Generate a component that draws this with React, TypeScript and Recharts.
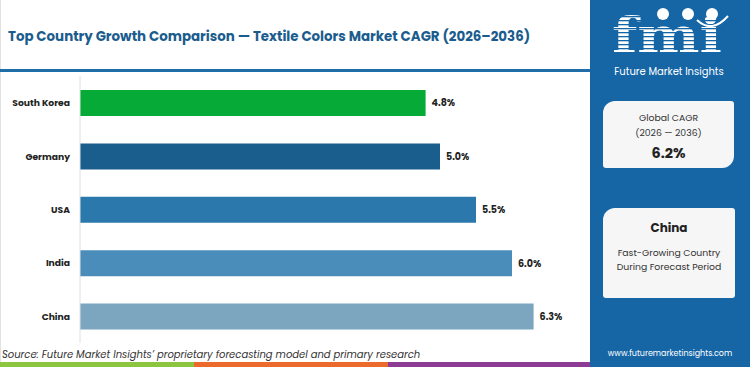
import { BarChart, Bar, XAxis, YAxis, LabelList, Cell } from 'recharts';

const countries = ['South Korea', 'Germany', 'USA', 'India', 'China'];
const cagrValues = [4.8, 5.0, 5.5, 6.0, 6.3];
const barColors = ['#06ab37', '#1a5e8e', '#2b78ad', '#4a8cba', '#7ca5c0'];
const bottomStripe = ['#8cc63f', '#ec6a2c', '#8d3b95'];

const data = countries.map((country, i) => ({ country, cagr: cagrValues[i] }));

const FONT = 'Poppins, "Open Sans", Roboto, sans-serif';

function CountryTick({ x, y, payload }: any) {
  return (
    <text x={x} y={y} dy={3.5} textAnchor="end" fill="#222" fontSize={9.2} fontWeight={700} fontFamily={FONT}>
      {payload.value}
    </text>
  );
}

function Logo() {
  const stripes = [];
  for (let y = 16; y < 54; y += 4) {
    stripes.push(<rect key={y} x={608} y={y} width={120} height={1.3} fill="#1666a6" />);
  }
  return (
    <svg width={160} height={100} viewBox="590 0 160 100" style={{ position: 'absolute', left: 590, top: 0 }}>
      <text x={612} y={53} fill="#fff" fontFamily='"DejaVu Serif", serif' fontWeight={700} fontSize={50} textLength={110} lengthAdjust="spacingAndGlyphs">
        fmi
      </text>
      {stripes}
      <circle cx={663} cy={14} r={6} fill="#fff" />
      <circle cx={688} cy={14} r={6} fill="#fff" />
      <circle cx={712} cy={14} r={6} fill="#fff" />
      <path d="M697 20 Q712 34 728 16" stroke="#fff" strokeWidth={2} fill="none" />
      <text x={669} y={75} fill="#fff" fontFamily={FONT} fontSize={10} textAnchor="middle">
        Future Market Insights
      </text>
    </svg>
  );
}

export default function App() {
  return (
    <div style={{ position: 'absolute', left: 0, top: 0, width: 750, height: 367, background: '#fff', overflow: 'hidden', fontFamily: FONT }}>
      <div style={{ position: 'absolute', left: 0, top: 0, width: 1, height: 367, background: '#e2e2e2' }} />
      <div style={{ position: 'absolute', left: 8, top: 27, fontSize: 13.4, fontWeight: 700, color: '#1b5c8e', whiteSpace: 'nowrap' }}>
        Top Country Growth Comparison — Textile Colors Market CAGR (2026–2036)
      </div>
      <div style={{ position: 'absolute', left: 0, top: 69, width: 590, height: 3, background: '#1f6ea8' }} />

      <div style={{ position: 'absolute', left: 0, top: 0 }}>
        <BarChart width={590} height={367} data={data} layout="vertical" margin={{ top: 76, right: 6, bottom: 24, left: 0 }}>
          <XAxis type="number" domain={[0, 7]} hide />
          <YAxis
            type="category"
            dataKey="country"
            width={80}
            axisLine={{ stroke: '#e0e0e0' }}
            tickLine={false}
            tick={<CountryTick />}
            tickMargin={4}
          />
          <Bar dataKey="cagr" barSize={26} isAnimationActive={false}>
            {data.map((d, i) => (
              <Cell key={d.country} fill={barColors[i]} />
            ))}
            <LabelList
              dataKey="cagr"
              position="right"
              offset={6}
              formatter={(v: number) => `${v.toFixed(1)}%`}
              style={{ fill: '#222', fontSize: 9.5, fontWeight: 700, fontFamily: FONT }}
            />
          </Bar>
        </BarChart>
      </div>

      <div style={{ position: 'absolute', left: 2, top: 347, fontSize: 10, fontStyle: 'italic', color: '#333', whiteSpace: 'nowrap' }}>
        Source: Future Market Insights’ proprietary forecasting model and primary research
      </div>
      <div style={{ position: 'absolute', left: 0, top: 362, width: 194, height: 5, background: bottomStripe[0] }} />
      <div style={{ position: 'absolute', left: 194, top: 362, width: 194, height: 5, background: bottomStripe[1] }} />
      <div style={{ position: 'absolute', left: 388, top: 362, width: 202, height: 5, background: bottomStripe[2] }} />

      <div style={{ position: 'absolute', left: 590, top: 0, width: 160, height: 367, background: '#1666a6' }} />
      <Logo />

      <div style={{ position: 'absolute', left: 603, top: 101, width: 131, height: 67, background: '#f6f6f6', borderRadius: '12px 3px 12px 3px', textAlign: 'center', color: '#333' }}>
        <div style={{ fontSize: 9.3, marginTop: 9, lineHeight: '15px' }}>Global CAGR</div>
        <div style={{ fontSize: 9.3, lineHeight: '15px' }}>(2026 — 2036)</div>
        <div style={{ fontSize: 14.4, fontWeight: 700, color: '#222', marginTop: 3, lineHeight: '20px' }}>6.2%</div>
      </div>

      <div style={{ position: 'absolute', left: 603, top: 208, width: 132, height: 90, background: '#f6f6f6', borderRadius: '12px 3px 3px 3px', textAlign: 'center', color: '#333' }}>
        <div style={{ fontSize: 12, fontWeight: 700, color: '#222', marginTop: 11, lineHeight: '18px' }}>China</div>
        <div style={{ fontSize: 9.3, marginTop: 9, lineHeight: '14px' }}>Fast-Growing Country</div>
        <div style={{ fontSize: 9.3, lineHeight: '14px' }}>During Forecast Period</div>
      </div>

      <div style={{ position: 'absolute', left: 590, top: 348, width: 160, textAlign: 'center', fontSize: 8, color: '#fff' }}>
        www.futuremarketinsights.com
      </div>
    </div>
  );
}
